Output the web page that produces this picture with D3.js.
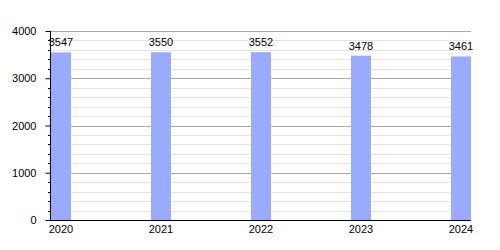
<!DOCTYPE html>
<html>
<head>
<meta charset="utf-8">
<script src="https://cdn.jsdelivr.net/npm/d3@7"></script>
<style>
  body { margin: 0; background: #fff; }
  text { font-family: "Liberation Sans", Arial, sans-serif; font-size: 11px; fill: #000; }
</style>
</head>
<body>
<div id="chart"></div>
<script>
// data
const years = ["2020", "2021", "2022", "2023", "2024"];
const values = [3547, 3550, 3552, 3478, 3461];
const majorTicks = [0, 1000, 2000, 3000, 4000];

const width = 500, height = 250;
const plotLeft = 50, plotRight = 471, plotTop = 31, plotBottom = 220;

const svg = d3.select("#chart").append("svg")
  .attr("width", width).attr("height", height);

const x = d3.scaleBand().domain(years).range([plotLeft + 1, plotRight]).paddingInner(0.8).paddingOuter(0);
const y = d3.scaleLinear().domain([0, 4000]).range([plotBottom, plotTop]);

// minor grid every 200
const minor = d3.range(200, 4000, 200).filter(v => v % 1000 !== 0);
svg.append("g").selectAll("line").data(minor).enter().append("line")
  .attr("x1", plotLeft).attr("x2", plotRight)
  .attr("y1", d => Math.round(y(d)) + 0.5).attr("y2", d => Math.round(y(d)) + 0.5)
  .attr("stroke", "#e4e4e4").attr("stroke-width", 1);

// major grid
svg.append("g").selectAll("line").data(majorTicks.filter(d => d > 0)).enter().append("line")
  .attr("x1", plotLeft).attr("x2", plotRight)
  .attr("y1", d => Math.round(y(d)) + 0.5).attr("y2", d => Math.round(y(d)) + 0.5)
  .attr("stroke", "#aaaaaa").attr("stroke-width", 1);

// bars
svg.append("g").selectAll("rect").data(values).enter().append("rect")
  .attr("x", (d, i) => x(years[i]))
  .attr("width", x.bandwidth())
  .attr("y", d => y(d))
  .attr("height", d => plotBottom - y(d))
  .attr("fill", "#99aaff");

// value labels
svg.append("g").selectAll("text").data(values).enter().append("text")
  .attr("x", (d, i) => x(years[i]) + x.bandwidth() / 2)
  .attr("y", d => y(d) - 6)
  .attr("text-anchor", "middle")
  .text(d => d);

// y axis
const yAxis = d3.axisLeft(y).tickValues(majorTicks).tickFormat(d3.format("d")).tickSize(5).tickPadding(9);
const ya = svg.append("g").attr("transform", `translate(${plotLeft + 0.5},0)`).call(yAxis);
ya.select(".domain").attr("stroke", "#000").attr("d", `M0,${plotTop}V${plotBottom}`);
ya.selectAll("text").style("font-size", "11px").style("font-family", "'Liberation Sans', Arial, sans-serif");

// minor ticks on the axis
svg.append("g").selectAll("line").data(minor).enter().append("line")
  .attr("x1", plotLeft - 2).attr("x2", plotLeft)
  .attr("y1", d => Math.round(y(d)) + 0.5).attr("y2", d => Math.round(y(d)) + 0.5)
  .attr("stroke", "#000");

// x axis
svg.append("line")
  .attr("x1", plotLeft).attr("x2", plotRight)
  .attr("y1", plotBottom + 0.5).attr("y2", plotBottom + 0.5)
  .attr("stroke", "#000");

svg.append("g").selectAll("text").data(years).enter().append("text")
  .attr("x", d => x(d) + x.bandwidth() / 2)
  .attr("y", plotBottom + 13)
  .attr("text-anchor", "middle")
  .text(d => d);
</script>
</body>
</html>
